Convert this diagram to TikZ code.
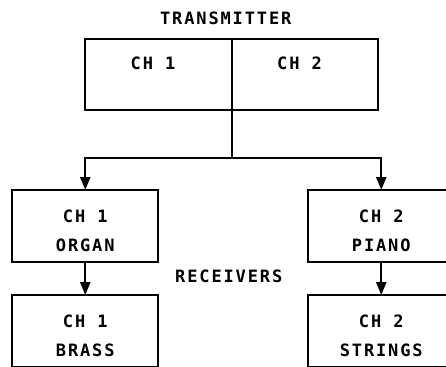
\documentclass[tikz,border=0pt]{standalone}
\usepackage{fontspec}
\newfontfamily\plotfont[LetterSpace=11]{DejaVu Sans Mono Bold}
\usetikzlibrary{arrows.meta,positioning,calc}

\begin{document}
\begin{tikzpicture}[x=1pt,y=-1pt,
  font=\plotfont\fontsize{17}{29}\selectfont,
  tx/.style={draw,line width=2.4pt,outer sep=0pt,inner sep=0pt,
    minimum width=146.5pt,text height=30.5pt,text depth=40.5pt,
    execute at end node={\kern11pt}},
  rx/.style={draw,line width=2.4pt,outer sep=0pt,inner sep=0pt,align=center,
    minimum width=146pt,text height=61pt,text depth=11pt},
  lbl/.style={inner sep=0pt},
  a/.style={-{Triangle[length=13pt,width=10pt]},line width=2.4pt}
]
\clip (0,0) rectangle (446,366);
\node[tx] (ch1) at (158.5,74.5) {CH 1};
\node[tx,right=0pt of ch1] (ch2) {CH 2};
\node[lbl,above=14pt of ch1.north east,xshift=-6pt] (tlabel) {TRANSMITTER};
\coordinate[below=48pt of ch1.south east] (hub);

\node[rx,below=80pt of ch1.south west] (org) {CH 1\\ORGAN};
\node[rx,right=150pt of org] (pia) {CH 2\\PIANO};
\node[rx,below=33pt of org] (brass) {CH 1\\BRASS};
\node[rx,below=33pt of pia] (strings) {CH 2\\STRINGS};
\coordinate (mid) at ($(org.south east)!0.5!(pia.south west)$);
\node[lbl,below=7.5pt of mid,xshift=-4.5pt] (rlabel) {RECEIVERS};

\draw[line width=2.4pt] (ch1.south east) -- (hub);
\draw[a] (hub) -| (org.north);
\draw[a] (hub) -| (pia.north);
\draw[a] (org) -- (brass);
\draw[a] (pia) -- (strings);
\end{tikzpicture}
\end{document}
